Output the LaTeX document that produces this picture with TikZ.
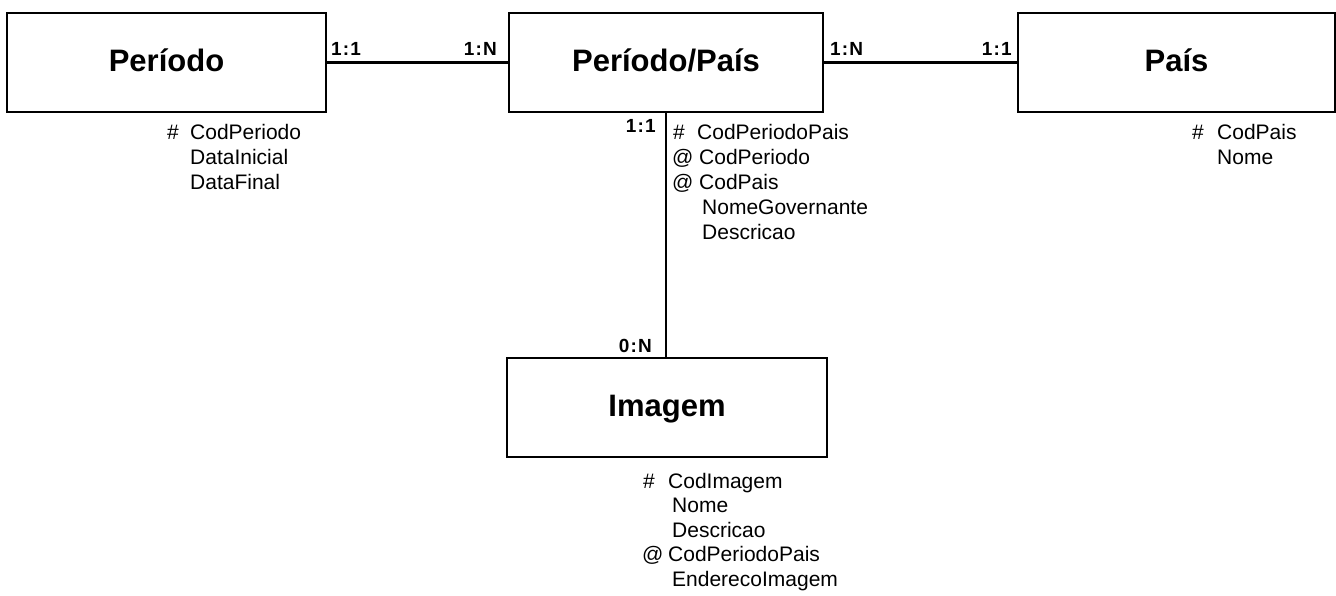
\documentclass[tikz,border=0pt]{standalone}
\usepackage{fontspec}
\setmainfont{Liberation Sans}
\begin{document}
\begin{tikzpicture}[x=1pt,y=-1pt,
  entity/.style={draw=black,line width=2.2pt,rectangle,minimum height=99pt,inner sep=0pt,
    font=\fontsize{31}{36}\selectfont\bfseries,text height=17pt,text depth=0pt},
  rel/.style={line width=2.2pt},
  card/.style={font=\fontsize{19}{22}\selectfont\bfseries,inner sep=0pt},
  attr/.style={font=\fontsize{21}{25}\selectfont,inner sep=0pt,anchor=base west}]
\useasboundingbox (0,0) rectangle (1336,595);
\newcommand{\cd}[3]{#1\kern1.2pt#2\kern1.2pt#3}
% entities
\node[entity,minimum width=319pt] (per) at (166.5,62.5) {Período};
\node[entity,minimum width=314pt] (pp) at (666,62.5) {Período/País};
\node[entity,minimum width=317pt] (pais) at (1176.5,62.5) {País};
\node[entity,minimum width=320pt] (img) at (667,407.5) {Imagem};
% relationships
\draw[rel] (per.east) -- (pp.west);
\draw[rel] (pp.east) -- (pais.west);
\draw[rel] (pp.south) -- (pp.south |- img.north);
% cardinalities
\node[card,anchor=base west] (c1) at (331,55) {\cd 1:1};
\node[card,anchor=base east] (c2) at (497,55) {\cd 1:N};
\node[card,anchor=base west] (c3) at (830,55) {\cd 1:N};
\node[card,anchor=base east] (c4) at (1012,55) {\cd 1:1};
\node[card,anchor=base east] (c5) at (656,132) {\cd 1:1};
\node[card,anchor=base east] (c6) at (652,352) {\cd 0:N};
% Periodo attributes
\node[attr] (pa0) at (167,139) {\#};
\node[attr] (pa1) at (190,139) {CodPeriodo};
\node[attr] (pa2) at (190,164) {DataInicial};
\node[attr] (pa3) at (190,189) {DataFinal};
% Periodo/Pais attributes
\node[attr] (qa0) at (673,139) {\#};
\node[attr] (qa1) at (697,139) {CodPeriodoPais};
\node[attr] (qs2) at (672,164) {@};
\node[attr] (qa2) at (699,164) {CodPeriodo};
\node[attr] (qs3) at (672,189) {@};
\node[attr] (qa3) at (699,189) {CodPais};
\node[attr] (qa4) at (702,214) {NomeGovernante};
\node[attr] (qa5) at (702,239) {Descricao};
% Pais attributes
\node[attr] (ra0) at (1192,139) {\#};
\node[attr] (ra1) at (1217,139) {CodPais};
\node[attr] (ra2) at (1217,164) {Nome};
% Imagem attributes
\node[attr] (ia0) at (643,488) {\#};
\node[attr] (ia1) at (668,488) {CodImagem};
\node[attr] (ia2) at (672,512.5) {Nome};
\node[attr] (ia3) at (672,537) {Descricao};
\node[attr] (is4) at (642,561.5) {@};
\node[attr] (ia4) at (668,561.5) {CodPeriodoPais};
\node[attr] (ia5) at (672,586) {EnderecoImagem};
\end{tikzpicture}
\end{document}
